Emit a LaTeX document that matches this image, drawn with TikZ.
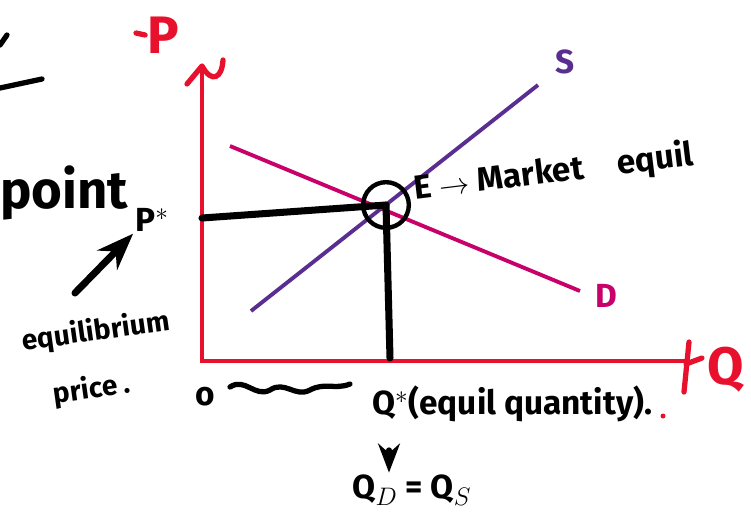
\documentclass[tikz,border=0pt]{standalone}
\usepackage{fontspec}
\setmainfont{Fira Sans}
\usetikzlibrary{arrows.meta,positioning,calc}
\definecolor{axisred}{HTML}{E8112D}
\definecolor{demandpink}{HTML}{C8006A}
\definecolor{supplyviolet}{HTML}{5A2D91}

\begin{document}
\begin{tikzpicture}[x=0.02cm,y=-0.02cm,
  ink/.style={line width=4pt,line cap=round,line join=round},
  axis/.style={draw=axisred,line width=2.2pt},
  hand/.style={inner sep=1pt,font=\fontsize{19}{22}\selectfont\bfseries},
  small/.style={inner sep=1pt,font=\fontsize{16}{18}\selectfont\bfseries},
  >=Stealth]
\useasboundingbox (0,0) rectangle (751,529);
% axes
\coordinate (O) at (202,361);
\coordinate (ytop) at (202,66);
\coordinate (xend) at (688,361);
\draw[axis] (ytop) -- (O) -- (xend);
\draw[axisred,ink,line width=3pt] (187,84) -- (ytop) .. controls (212,84) and (222,78) .. (223,60);
\draw[axisred,ink,line width=3pt] (689,342) -- (684,392) (686,364) -- (702,358);
\node[hand,text=axisred,font=\fontsize{30}{32}\selectfont\bfseries] (plab) at (163,35) {P};
\draw[axisred,ink,line width=3pt] (136,33) -- (plab.west);
\node[hand,text=axisred,font=\fontsize{30}{32}\selectfont\bfseries] (qlab) at (726,370) {Q};
% demand and supply
\coordinate (d1) at (230,146);
\coordinate (d2) at (580,291);
\draw[demandpink,line width=2.2pt] (d1) -- (d2);
\node[hand,text=demandpink] (dlab) at (606,296) {D};
\coordinate (s1) at (251,311);
\coordinate (s2) at (538,85);
\draw[supplyviolet,line width=2.2pt] (s1) -- (s2);
\node[hand,text=supplyviolet] (slab) at (565,62) {S};
% equilibrium
\node[draw,circle,line width=2.5pt,minimum size=26pt,inner sep=0pt] (E) at (386,205) {};
\coordinate (py) at (202,218);
\coordinate (qx) at (390,358);
\draw[ink] (py) -- (E.center);
\draw[ink] (E.center) -- (qx);
\node[hand,rotate=7,anchor=west] (elab) at (412,190) {E $\rightarrow$ Market\quad equil};
% price side
\node[hand] (pstar) at (152,220) {P$^{*}$};
\node[small,rotate=8] (eqp) at (96,332) {equilibrium};
\node[small,rotate=8] (price) at (92,390) {price .};
\coordinate (a0) at (75,293);
\draw[ink,->] (a0) -- (pstar.south west);
\node[hand,anchor=east,font=\fontsize{30}{32}\selectfont\bfseries] (point) at (130,193) {point};
\draw[ink,line width=3pt] (0,88) -- (42,79);
\draw[ink,line width=3pt] (0,45) -- (7,35);
% quantity side
\node[hand] (zero) at (205,397) {o};
\draw[ink,line width=3pt] (230,387) .. controls (245,377) and (255,398) .. (270,390)
  .. controls (285,380) and (295,398) .. (310,390) .. controls (325,382) and (335,390) .. (350,384);
\node[hand,anchor=west] (qstar) at (370,404) {Q$^{*}$(equil quantity).};
\fill[axisred] (663,416) circle (2.5);
\node[hand] (qdqs) at (412,490) {Q$_{D}$ = Q$_{S}$};
\coordinate (dn) at (389,450);
\draw[ink,line width=3pt,->] (dn) -- (dn |- qdqs.north);
\end{tikzpicture}
\end{document}
